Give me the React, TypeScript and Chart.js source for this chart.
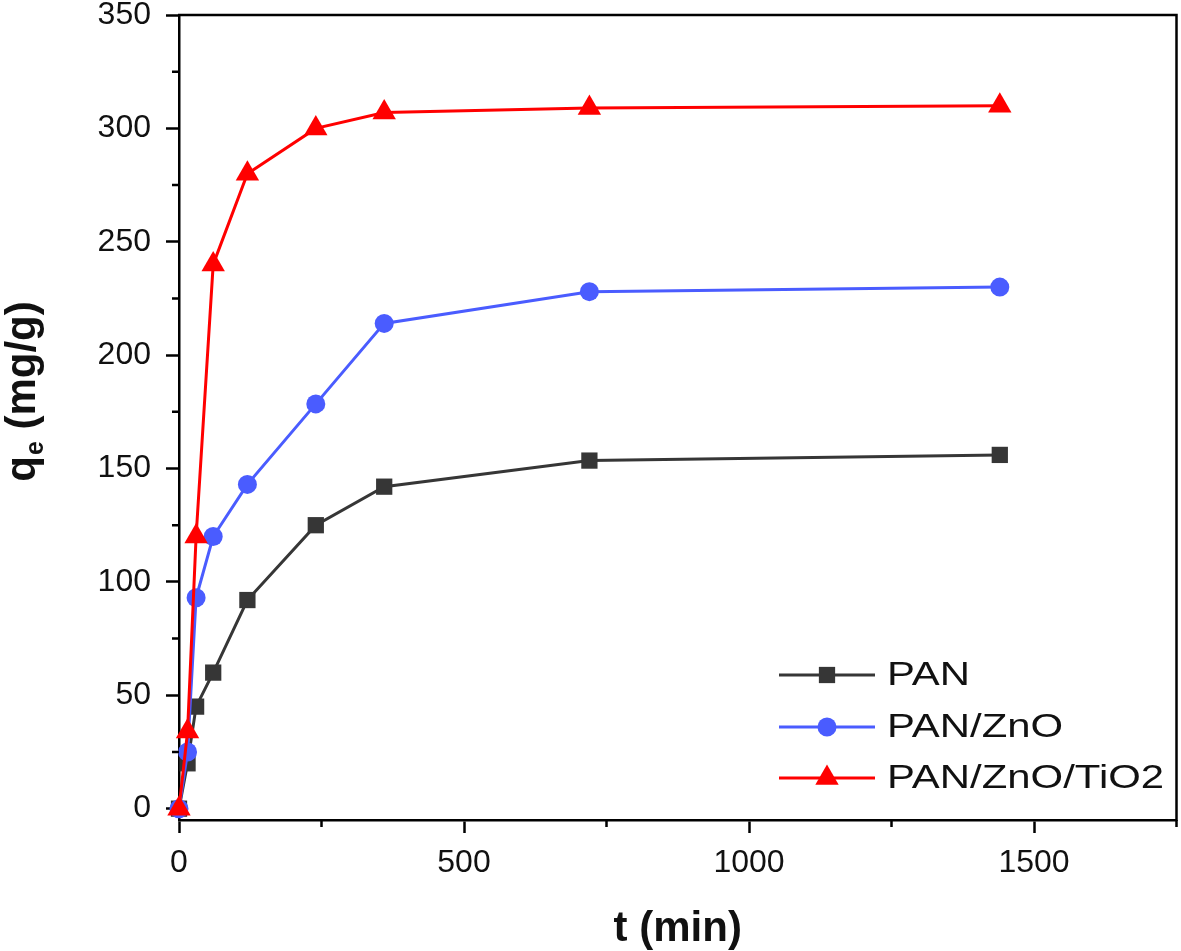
import React, { useEffect, useRef } from 'react';
import { Chart, registerables } from 'chart.js';

Chart.register(...registerables);

// ---- data ----
const times = [0, 15, 30, 60, 120, 240, 360, 720, 1440];
const panValues = [0, 20, 45, 60, 92, 125, 142, 153.5, 156];
const znoValues = [0, 25, 93, 120, 143, 178.5, 214, 228, 230];
const tio2Values = [0, 34, 120, 240, 280, 300, 307, 309, 310];
const seriesNames = ['PAN', 'PAN/ZnO', 'PAN/ZnO/TiO2'];

const xTicks = [0, 500, 1000, 1500];
const xMinorTicks = [250, 750, 1250, 1750];
const yTicks = [0, 50, 100, 150, 200, 250, 300, 350];
const yMinorTicks = [25, 75, 125, 175, 225, 275, 325];
const xTitle = 't (min)';
const yTitleMain = 'q';
const yTitleSub = 'e';
const yTitleRest = ' (mg/g)';

const FONT = '"Liberation Sans", Arial, Helvetica, sans-serif';
const colors = ['#363636', '#4a5cff', '#ff0000'];
const pointStyles = ['rect', 'circle', 'triangle'] as const;
const pointRadii = [11.5, 9.5, 13.5];

function drawMarker(ctx: CanvasRenderingContext2D, style: string, x: number, y: number, r: number, color: string) {
  ctx.save();
  ctx.fillStyle = color;
  ctx.beginPath();
  if (style === 'rect') {
    const s = Math.SQRT1_2 * r;
    ctx.rect(x - s, y - s, 2 * s, 2 * s);
  } else if (style === 'circle') {
    ctx.arc(x, y, r, 0, Math.PI * 2);
  } else {
    let rad = 0;
    ctx.moveTo(x + Math.sin(rad) * r, y - Math.cos(rad) * r);
    rad += (2 * Math.PI) / 3;
    ctx.lineTo(x + Math.sin(rad) * r, y - Math.cos(rad) * r);
    rad += (2 * Math.PI) / 3;
    ctx.lineTo(x + Math.sin(rad) * r, y - Math.cos(rad) * r);
    ctx.closePath();
  }
  ctx.fill();
  ctx.restore();
}

const decorPlugin = {
  id: 'decor',
  afterDraw(chart: any) {
    const ctx: CanvasRenderingContext2D = chart.ctx;
    const { left, right, top, bottom } = chart.chartArea;
    const xs = chart.scales.x;
    const ys = chart.scales.y;
    ctx.save();
    // frame top/right
    ctx.strokeStyle = '#000';
    ctx.lineWidth = 2.5;
    ctx.beginPath();
    ctx.moveTo(left - 1, top);
    ctx.lineTo(right, top);
    ctx.lineTo(right, bottom + 1);
    ctx.stroke();
    // minor ticks
    ctx.beginPath();
    yMinorTicks.forEach((v) => {
      const py = ys.getPixelForValue(v);
      ctx.moveTo(left, py);
      ctx.lineTo(left - 7, py);
    });
    xMinorTicks.forEach((v) => {
      const px = xs.getPixelForValue(v);
      ctx.moveTo(px, bottom);
      ctx.lineTo(px, bottom + 7);
    });
    ctx.stroke();

    // x title
    ctx.fillStyle = '#111';
    ctx.font = `bold 42px ${FONT}`;
    ctx.textAlign = 'center';
    ctx.textBaseline = 'alphabetic';
    ctx.fillText(xTitle, (left + right) / 2, 941);

    // y title with subscript
    const mainFont = `bold 42px ${FONT}`;
    const subFont = `bold 25px ${FONT}`;
    ctx.font = mainFont;
    const wq = ctx.measureText(yTitleMain).width;
    const wr = ctx.measureText(yTitleRest).width;
    ctx.font = subFont;
    const we = ctx.measureText(yTitleSub).width;
    const total = wq + we + wr;
    const cy = 392;
    ctx.translate(35, cy + total / 2);
    ctx.rotate(-Math.PI / 2);
    ctx.textAlign = 'left';
    ctx.font = mainFont;
    ctx.fillText(yTitleMain, 0, 0);
    ctx.font = subFont;
    ctx.fillText(yTitleSub, wq + 1, 8);
    ctx.font = mainFont;
    ctx.fillText(yTitleRest, wq + we + 1, 0);
    ctx.restore();

    // legend
    const rows = [675, 727, 778];
    ctx.save();
    seriesNames.forEach((name, i) => {
      const y = rows[i];
      ctx.strokeStyle = colors[i];
      ctx.lineWidth = 3;
      ctx.beginPath();
      ctx.moveTo(779, y);
      ctx.lineTo(875, y);
      ctx.stroke();
      drawMarker(ctx, pointStyles[i], 827, y, pointRadii[i], colors[i]);
      ctx.save();
      ctx.fillStyle = '#111';
      ctx.font = `33px ${FONT}`;
      ctx.textAlign = 'left';
      ctx.textBaseline = 'middle';
      ctx.translate(887, y + 1);
      ctx.scale(1.27, 1);
      ctx.fillText(name, 0, 0);
      ctx.restore();
    });
    ctx.restore();
  },
};

export default function App() {
  const canvasRef = useRef<HTMLCanvasElement | null>(null);

  useEffect(() => {
    if (!canvasRef.current) return;
    const valueSets = [panValues, znoValues, tio2Values];
    const datasets = valueSets.map((vals, i) => ({
      label: seriesNames[i],
      data: times.map((t, j) => ({ x: t, y: vals[j] })),
      borderColor: colors[i],
      backgroundColor: colors[i],
      borderWidth: 3,
      pointStyle: pointStyles[i],
      pointRadius: pointRadii[i],
      pointBorderWidth: 0,
      pointBackgroundColor: colors[i],
      pointBorderColor: colors[i],
      tension: 0,
      clip: false as any,
      order: 3 - i,
    }));

    const chart = new Chart(canvasRef.current, {
      type: 'line',
      data: { datasets },
      options: {
        animation: false,
        responsive: false,
        devicePixelRatio: 1,
        layout: { padding: { top: 15, right: 0, left: 0, bottom: 0 } },
        plugins: {
          legend: { display: false },
          tooltip: { enabled: false },
        },
        scales: {
          x: {
            type: 'linear',
            min: 0,
            max: 1750,
            afterBuildTicks: (s: any) => {
              s.ticks = xTicks.map((v) => ({ value: v }));
            },
            afterFit: (s: any) => {
              s.height = 131;
              s.paddingLeft = 0;
              s.paddingRight = 0;
            },
            grid: {
              drawOnChartArea: false,
              drawTicks: true,
              tickLength: 13,
              tickColor: '#000',
              tickWidth: 2.5,
            },
            border: { display: true, color: '#000', width: 2.5 },
            ticks: {
              font: { family: FONT, size: 32 },
              color: '#111',
              padding: 11,
              maxRotation: 0,
              autoSkip: false,
              callback: (v: any) => String(v),
            },
          },
          y: {
            type: 'linear',
            min: -5,
            max: 350,
            afterBuildTicks: (s: any) => {
              s.ticks = yTicks.map((v) => ({ value: v }));
            },
            afterFit: (s: any) => {
              s.width = 179;
              s.paddingTop = 0;
              s.paddingBottom = 0;
            },
            grid: {
              drawOnChartArea: false,
              drawTicks: true,
              tickLength: 13,
              tickColor: '#000',
              tickWidth: 2.5,
            },
            border: { display: true, color: '#000', width: 2.5 },
            ticks: {
              font: { family: FONT, size: 32 },
              color: '#111',
              padding: 15,
              autoSkip: false,
              callback: (v: any) => String(v),
            },
          },
        },
      },
      plugins: [decorPlugin],
    });
    return () => chart.destroy();
  }, []);

  return (
    <div style={{ position: 'fixed', left: 0, top: 0, width: 1181, height: 951, background: '#fff', overflow: 'hidden' }}>
      <canvas ref={canvasRef} width={1190} height={951} style={{ display: 'block' }} />
    </div>
  );
}
